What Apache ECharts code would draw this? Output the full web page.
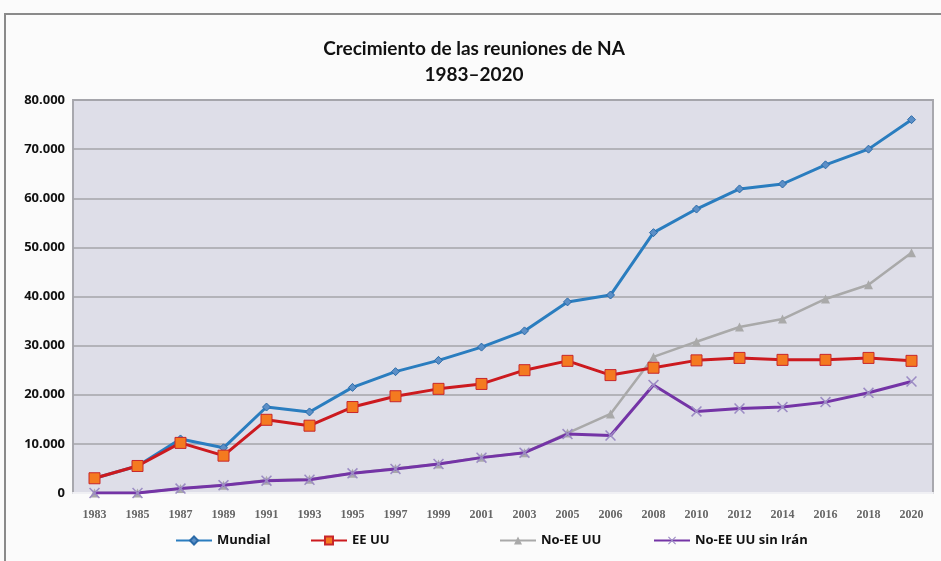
<!DOCTYPE html>
<html>
<head>
<meta charset="utf-8">
<script src="https://cdn.jsdelivr.net/npm/echarts@6/dist/echarts.min.js"></script>
<style>
    html, body { margin: 0; padding: 0; background: #fbfbfb; }
    #main { width: 941px; height: 561px; }
</style>
</head>
<body>
<div id="main"></div>
<script>
const YEARS = ['1983', '1985', '1987', '1989', '1991', '1993', '1995', '1997', '1999', '2001',
    '2003', '2005', '2006', '2008', '2010', '2012', '2014', '2016', '2018', '2020'];

const MUNDIAL = [3000, 5500, 11000, 9200, 17500, 16500, 21500, 24700, 27000, 29700,
    33000, 38900, 40300, 53000, 57800, 61900, 62900, 66800, 70000, 76000];
const EE_UU = [3000, 5500, 10200, 7600, 14900, 13700, 17500, 19700, 21200, 22200,
    25000, 26900, 24000, 25500, 27000, 27500, 27100, 27100, 27500, 26900];
const NO_EE_UU = [0, 0, 900, 1600, 2600, 2800, 4000, 5000, 5900, 7300,
    8200, 12200, 16100, 27700, 30800, 33800, 35400, 39500, 42400, 48900];
const NO_EE_UU_SIN_IRAN = [0, 0, 900, 1600, 2500, 2700, 4000, 4900, 5900, 7200,
    8200, 12000, 11700, 22000, 16600, 17200, 17500, 18500, 20400, 22700];

const SERIES_NAMES = ['Mundial', 'EE UU', 'No-EE UU', 'No-EE UU sin Irán'];
// left edge of each legend entry, as in the picture
const LEGEND_LEFT = [170, 305, 494, 648];

const X_MARK = 'path://M0,1L1,0L5,4L9,0L10,1L6,5L10,9L9,10L5,6L1,10L0,9L4,5Z';

let chart = echarts.init(document.getElementById('main'));

function fmt(v) {
    return v === 0 ? '0' : String(v).replace(/\B(?=(\d{3})+(?!\d))/g, '.');
}

let legends = SERIES_NAMES.map((name, i) => ({
    top: 529,
    left: LEGEND_LEFT[i],
    itemWidth: 36,
    itemHeight: 10,
    itemGap: 6,
    textStyle: {fontFamily: 'Open Sans', fontWeight: 'bold', fontSize: 13, color: '#111'},
    data: [name]
}));

let option = {
    backgroundColor: '#fbfbfb',
    animation: false,
    graphic: [{
        type: 'rect',
        shape: {x: 5, y: 14, width: 960, height: 600},
        style: {fill: 'none', stroke: '#8a8a8a', lineWidth: 2}
    }],
    title: {
        text: 'Crecimiento de las reuniones de NA\n1983–2020',
        left: 469,
        textAlign: 'center',
        top: 31,
        textStyle: {
            fontFamily: 'Lato',
            fontWeight: 'bold',
            fontSize: 19,
            lineHeight: 26,
            color: '#111'
        }
    },
    grid: {
        left: 73, right: 8, top: 100, bottom: 68,
        show: true,
        backgroundColor: '#dedee8',
        borderColor: '#a8a8ae',
        borderWidth: 2
    },
    legend: legends,
    xAxis: {
        type: 'category',
        data: YEARS,
        axisLine: {lineStyle: {color: '#f0f0f4', width: 2}},
        axisTick: {show: false},
        axisLabel: {
            fontFamily: 'Liberation Serif',
            fontWeight: 'bold',
            fontSize: 12,
            color: '#666',
            margin: 16
        }
    },
    yAxis: {
        type: 'value',
        min: 0,
        max: 80000,
        interval: 10000,
        axisLine: {show: false},
        axisTick: {show: false},
        splitLine: {lineStyle: {color: '#a4a4aa', width: 1.5}},
        axisLabel: {
            formatter: fmt,
            fontFamily: 'Open Sans',
            fontWeight: 'bold',
            fontSize: 13,
            color: '#111',
            margin: 8
        }
    },
    series: [
        {
            name: 'No-EE UU',
            type: 'line',
            data: NO_EE_UU,
            z: 2,
            symbol: 'triangle',
            symbolSize: 9,
            lineStyle: {color: '#a9a9a9', width: 2.5},
            itemStyle: {color: '#a9a9a9'}
        },
        {
            name: 'No-EE UU sin Irán',
            type: 'line',
            data: NO_EE_UU_SIN_IRAN,
            z: 3,
            symbol: X_MARK,
            symbolSize: 11,
            lineStyle: {color: '#7434a6', width: 3},
            itemStyle: {color: '#9c8cc4'}
        },
        {
            name: 'Mundial',
            type: 'line',
            data: MUNDIAL,
            z: 4,
            symbol: 'diamond',
            symbolSize: 8,
            lineStyle: {color: '#2a7dbf', width: 3},
            itemStyle: {color: '#5b8fc7', borderColor: '#2a6aa8', borderWidth: 1}
        },
        {
            name: 'EE UU',
            type: 'line',
            data: EE_UU,
            z: 5,
            symbol: 'rect',
            symbolSize: 11,
            lineStyle: {color: '#cc1a1f', width: 3},
            itemStyle: {color: '#f47a20', borderColor: '#c8262a', borderWidth: 1}
        }
    ]
};

option && chart.setOption(option);
</script>
</body>
</html>
